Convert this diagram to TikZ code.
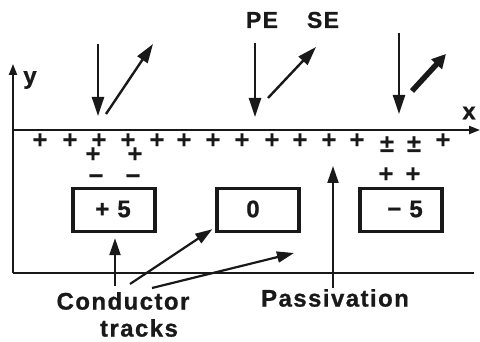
\documentclass[tikz,border=0pt]{standalone}
\usepackage{fontspec}
\setmainfont{Liberation Sans}
\usetikzlibrary{arrows.meta}
\begin{document}
\begin{tikzpicture}[x=1pt,y=-1pt,
  ink/.style={draw=black!90},
  axis/.style={ink,line width=2pt,-{Triangle[length=11pt,width=8pt]}},
  beam/.style={ink,line width=2.4pt,-{Triangle[length=19pt,width=12pt]}},
  thickbeam/.style={ink,line width=5.5pt,-{Triangle[length=14pt,width=14pt]}},
  pointer/.style={ink,line width=2.2pt,-{Triangle[length=17pt,width=11pt]}},
  track/.style={ink,line width=3.4pt,minimum width=82pt,minimum height=43pt,inner sep=0pt},
  lbl/.style={inner sep=0pt,font=\fontsize{23}{24}\selectfont\bfseries\addfontfeatures{LetterSpace=6,FakeBold=0.8},text=black!90},
  big/.style={inner sep=0pt,font=\fontsize{24}{26}\selectfont\bfseries\addfontfeatures{LetterSpace=6,FakeBold=0.8},text=black!90},
  chg/.style={inner sep=0pt,text height=6pt,text depth=0pt,yshift=-4pt,font=\fontsize{25}{26}\selectfont\bfseries\addfontfeatures{FakeBold=0.6},text=black!90},
  axl/.style={inner sep=0pt,font=\fontsize{24}{26}\selectfont\bfseries\addfontfeatures{FakeBold=0.8},text=black!90},
]
\useasboundingbox (0,0) rectangle (480,342);
% axes
\coordinate (ytip) at (13,64);
\coordinate (O) at (13,130);
\coordinate (xtip) at (480,130);
\coordinate (BL) at (13,273);
\coordinate (BR) at (474,273);
\draw[axis] (BL) -- (ytip);
\draw[axis] (O) -- (xtip);
\draw[ink,line width=2pt] (BL) -- (BR);
\node[axl] (ylab) at (30,80) {y};
\node[axl] (xlab) at (469,113) {x};
% beams
\coordinate (pe1a) at (98,44);  \coordinate (pe1b) at (98,116);
\coordinate (se1a) at (106,114); \coordinate (se1b) at (153,44);
\coordinate (pe2a) at (255,43); \coordinate (pe2b) at (255,117);
\coordinate (se2a) at (268,98); \coordinate (se2b) at (316,47);
\coordinate (pe3a) at (399,33); \coordinate (pe3b) at (399,114);
\coordinate (se3a) at (412,91); \coordinate (se3b) at (446,54);
\draw[beam] (pe1a) -- (pe1b);
\draw[beam] (se1a) -- (se1b);
\draw[beam] (pe2a) -- (pe2b);
\draw[beam] (se2a) -- (se2b);
\draw[beam] (pe3a) -- (pe3b);
\draw[thickbeam] (se3a) -- (se3b);
\node[lbl] (pe) at (262,20) {PE};
\node[lbl] (se) at (323,20) {SE};
% charges row
\foreach \x [count=\i] in {40,70,99,128,157,184,213,242,272,300,329,357,443}
  \node[chg] (p\i) at (\x,141) {+};
\node[chg] (pm1) at (387,145) {±};
\node[chg] (pm2) at (414,145) {±};
\node[chg] (q1) at (93,155) {+};
\node[chg] (q2) at (135,155) {+};
\node[chg] (m1) at (96,177) {−};
\node[chg] (m2) at (133,177) {−};
\node[chg] (q3) at (386,175) {+};
\node[chg] (q4) at (413,175) {+};
% tracks
\node[track] (b1) at (114,210) {};
\node[track] (b2) at (258,210) {};
\node[track] (b3) at (401,210) {};
\node[big] (t1) at (113,209) {+ 5};
\node[big] (t2) at (253,209) {0};
\node[big] (t3) at (405,209) {− 5};
% pointers
\coordinate (c1) at (115,286);
\coordinate (c2) at (130,284);
\coordinate (c3) at (152,288);
\coordinate (c3tip) at (294,253);
\draw[pointer,shorten >=5pt] (c1) -- (b1.south -| c1);
\draw[pointer] (c2) -- ([xshift=-3pt,yshift=4pt]b2.south west);
\draw[pointer] (c3) -- (c3tip);
\coordinate (pa) at (333,288);
\coordinate (patip) at (333,166);
\draw[pointer] (pa) -- (patip);
\node[big] (cond) at (123,301) {Conductor};
\node[big] (trk) at (139,328) {tracks};
\node[big] (pas) at (335,298) {Passivation};
\end{tikzpicture}
\end{document}
